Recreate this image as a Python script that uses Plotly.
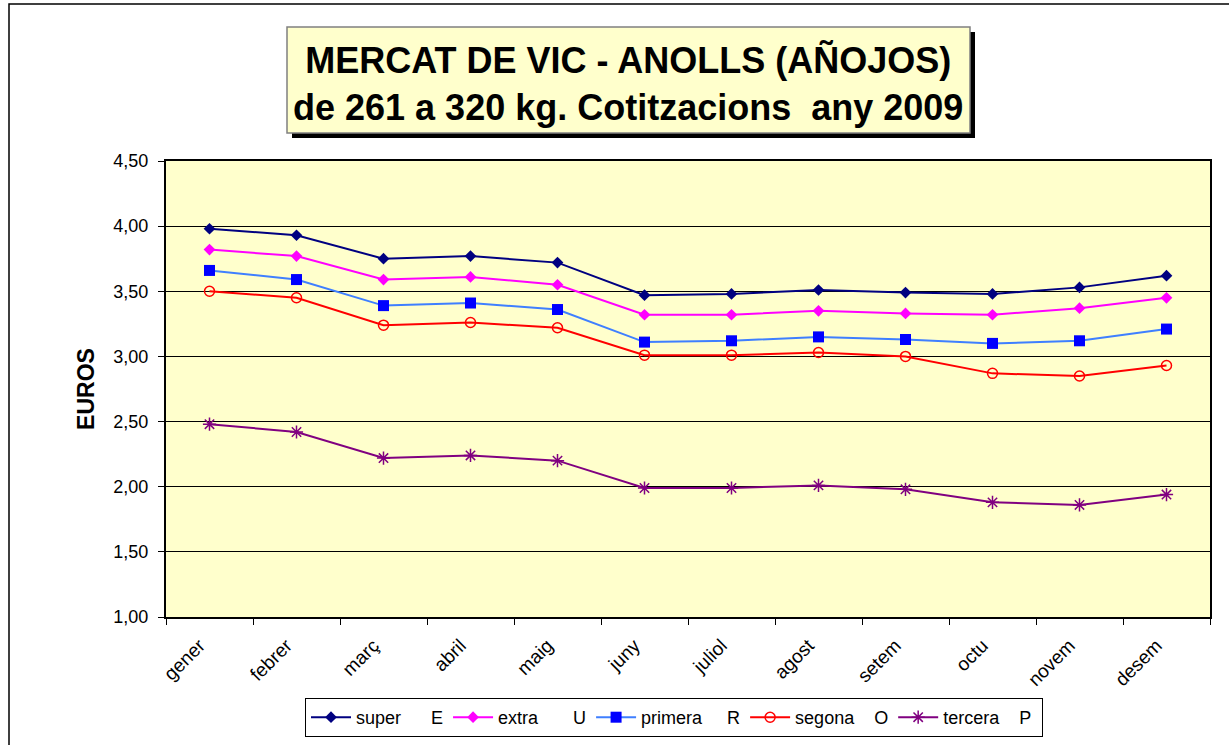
import plotly.graph_objects as go

months = ["gener", "febrer", "març", "abril", "maig", "juny", "juliol",
          "agost", "setem", "octu", "novem", "desem"]

super_E = [3.98, 3.93, 3.75, 3.77, 3.72, 3.47, 3.48, 3.51, 3.49, 3.48, 3.53, 3.62]
extra_U = [3.82, 3.77, 3.59, 3.61, 3.55, 3.32, 3.32, 3.35, 3.33, 3.32, 3.37, 3.45]
primera_R = [3.66, 3.59, 3.39, 3.41, 3.36, 3.11, 3.12, 3.15, 3.13, 3.10, 3.12, 3.21]
segona_O = [3.50, 3.45, 3.24, 3.26, 3.22, 3.01, 3.01, 3.03, 3.00, 2.87, 2.85, 2.93]
tercera_P = [2.48, 2.42, 2.22, 2.24, 2.20, 1.99, 1.99, 2.01, 1.98, 1.88, 1.86, 1.94]

NB = "\u00a0"
series_names = ["super" + NB * 6 + "E",
                "extra" + NB * 7 + "U",
                "primera" + NB * 5 + "R",
                "segona" + NB * 4 + "O",
                "tercera" + NB * 4 + "P" + NB]

FONT = "Arial, 'Liberation Sans', sans-serif"
W, H = 1229, 745
L, R, T, B = 166, 1210, 161, 617

def px(x):
    return (x - L) / (R - L)

def py(y):
    return (B - y) / (B - T)

fig = go.Figure()
styles = [
    (super_E, dict(color="#000080", width=2), dict(symbol="diamond", size=9, color="#000080")),
    (extra_U, dict(color="#FF00FF", width=2), dict(symbol="diamond", size=9, color="#FF00FF")),
    (primera_R, dict(color="#3F7FFF", width=2), dict(symbol="square", size=11, color="#0000FF")),
    (segona_O, dict(color="#FF0000", width=2), dict(symbol="circle-open", size=10, color="#FF0000", line=dict(width=1.5, color="#FF0000"))),
    (tercera_P, dict(color="#800080", width=2), dict(symbol="asterisk-open", size=11, color="#800080", line=dict(width=1.5, color="#800080"))),
]
for name, (vals, ln, mk) in zip(series_names, styles):
    fig.add_trace(go.Scatter(x=months, y=vals, mode="lines+markers", name=name,
                             line=ln, marker=mk))

shapes = [
    # outer chart border
    dict(type="rect", xref="paper", yref="paper", x0=px(9), x1=px(1260), y0=py(780), y1=py(4),
         line=dict(color="black", width=1.5), fillcolor="rgba(0,0,0,0)", layer="below"),
    # title shadow
    dict(type="rect", xref="paper", yref="paper", x0=px(292), x1=px(975), y0=py(138), y1=py(32),
         line=dict(width=0), fillcolor="black"),
    # title box
    dict(type="rect", xref="paper", yref="paper", x0=px(287), x1=px(970), y0=py(133), y1=py(27),
         line=dict(color="#808080", width=1.5), fillcolor="#FFFFCC"),
]

annotations = [
    dict(text="<b>MERCAT DE VIC - ANOLLS (AÑOJOS)<br>de 261 a 320 kg. Cotitzacions" + NB * 2 + "any 2009</b>",
         xref="paper", yref="paper", x=px(628), y=py(83), xanchor="center", yanchor="middle",
         showarrow=False, font=dict(family=FONT, size=36, color="black"), align="center"),
]

fig.update_layout(
    width=W, height=H,
    margin=dict(l=L, r=W - R, t=T, b=H - B, pad=0),
    paper_bgcolor="white", plot_bgcolor="#FFFFCC",
    font=dict(family=FONT, size=18, color="black"),
    showlegend=True,
    legend=dict(orientation="h", xref="container", yref="container",
                x=305 / W, xanchor="left", y=1 - 698 / H, yanchor="top",
                bgcolor="white", bordercolor="black", borderwidth=1,
                font=dict(family=FONT, size=18, color="black"),
                itemwidth=40, tracegroupgap=0),
    shapes=shapes, annotations=annotations,
    separators=",.",
)
fig.update_xaxes(type="category", range=[-0.5, 11.5], showline=True, linecolor="black",
                 linewidth=2, mirror=True, ticks="outside", ticklen=6, tickcolor="black",
                 tickwidth=1, tickson="boundaries", tickangle=-45,
                 ticklabelstandoff=8, ticklabelshift=-10,
                 tickfont=dict(family=FONT, size=19), showgrid=False, automargin=False)
fig.update_yaxes(range=[1.0, 4.5], dtick=0.5, tickformat=".2f", showline=True, linecolor="black",
                 linewidth=2, mirror=True, ticks="outside", ticklen=6, tickcolor="black",
                 showgrid=True, gridcolor="black", gridwidth=1, zeroline=False,
                 tickfont=dict(family=FONT, size=18), ticklabelstandoff=6, automargin=False,
                 title=dict(text="<b>EUROS</b>", font=dict(family=FONT, size=23), standoff=12))

fig.write_html("out.html", config={"displayModeBar": False},
               post_script="document.body.style.margin='0';")
